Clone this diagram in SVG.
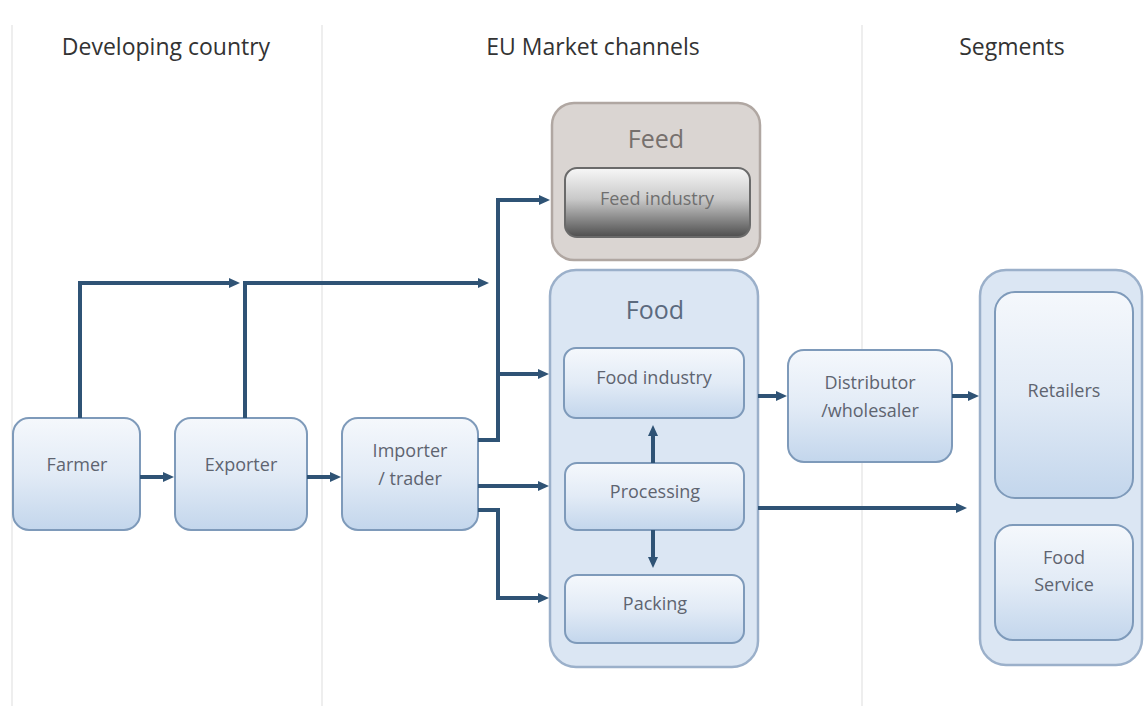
<svg xmlns="http://www.w3.org/2000/svg" width="1146" height="706" viewBox="0 0 1146 706">
<defs>
<linearGradient id="gNode" x1="0" y1="0" x2="0" y2="1">
<stop offset="0" stop-color="#f5f8fc"/>
<stop offset="0.5" stop-color="#e2ebf6"/>
<stop offset="1" stop-color="#c3d6ec"/>
</linearGradient>
<linearGradient id="gFeed" x1="0" y1="0" x2="0" y2="1">
<stop offset="0" stop-color="#f7f7f7"/>
<stop offset="0.45" stop-color="#c9c9c9"/>
<stop offset="1" stop-color="#4e4e4e"/>
</linearGradient>
<marker id="arr" markerUnits="userSpaceOnUse" markerWidth="12" markerHeight="12" refX="3" refY="6" orient="auto">
<path d="M0,1 L11,6 L0,11 z" fill="#2f5375"/>
</marker>
<style>
.hdr{font-family:"Open Sans","Liberation Sans",sans-serif;font-size:23px;fill:#333;text-anchor:middle}
.node rect.b{fill:url(#gNode);stroke:#7e9aba;stroke-width:2}
.lbl{font-family:"Open Sans","Liberation Sans",sans-serif;font-size:18px;fill:#5e6470;text-anchor:middle}
.cont{fill:#dbe6f3;stroke:#9bb0ca;stroke-width:2.5}
.ctitle{font-family:"Open Sans","Liberation Sans",sans-serif;font-size:25px;fill:#5b6a7e;text-anchor:middle}
.sep{stroke:#eeeeee;stroke-width:2}
#connectors path{fill:none;stroke:#2f5375;stroke-width:4}
</style>
</defs>
<rect width="1146" height="706" fill="#ffffff"/>
<g id="separators">
<line class="sep" x1="12" y1="25" x2="12" y2="706"/>
<line class="sep" x1="322" y1="25" x2="322" y2="706"/>
<line class="sep" x1="862" y1="25" x2="862" y2="706"/>
</g>
<g id="headers">
<text class="hdr" x="166" y="55">Developing country</text>
<text class="hdr" x="593" y="55">EU Market channels</text>
<text class="hdr" x="1012" y="55">Segments</text>
</g>
<g id="feed">
<rect x="552" y="103" width="208" height="157" rx="22" fill="#dad5d2" stroke="#b0a7a2" stroke-width="2.5"/>
<text class="ctitle" x="656" y="148" style="fill:#76706d">Feed</text>
<g id="feed-industry">
<rect x="565" y="168" width="185" height="69" rx="12" fill="url(#gFeed)" stroke="#6a6a6a" stroke-width="2"/>
<text class="lbl" x="657" y="205" style="fill:#6f6f6f">Feed industry</text>
</g>
</g>
<g id="food">
<rect class="cont" x="550" y="270" width="208" height="397" rx="26"/>
<text class="ctitle" x="655" y="319">Food</text>
</g>
<g id="segments">
<rect class="cont" x="980" y="270" width="162" height="395" rx="26"/>
</g>
<g id="farmer" class="node">
<rect class="b" x="13" y="418" width="127" height="112" rx="16"/>
<text class="lbl" x="77" y="471">Farmer</text>
</g>
<g id="exporter" class="node">
<rect class="b" x="175" y="418" width="132" height="112" rx="16"/>
<text class="lbl" x="241" y="471">Exporter</text>
</g>
<g id="importer" class="node">
<rect class="b" x="342" y="418" width="136" height="112" rx="16"/>
<text class="lbl" x="410" y="457">Importer</text>
<text class="lbl" x="410" y="485">/ trader</text>
</g>
<g id="food-industry" class="node">
<rect class="b" x="564" y="348" width="180" height="70" rx="12"/>
<text class="lbl" x="654" y="384">Food industry</text>
</g>
<g id="processing" class="node">
<rect class="b" x="565" y="463" width="179" height="67" rx="12"/>
<text class="lbl" x="655" y="498">Processing</text>
</g>
<g id="packing" class="node">
<rect class="b" x="565" y="575" width="179" height="68" rx="12"/>
<text class="lbl" x="655" y="610">Packing</text>
</g>
<g id="distributor" class="node">
<rect class="b" x="788" y="350" width="164" height="112" rx="16"/>
<text class="lbl" x="870" y="389">Distributor</text>
<text class="lbl" x="870" y="417">/wholesaler</text>
</g>
<g id="retailers" class="node">
<rect class="b" x="995" y="292" width="138" height="206" rx="20"/>
<text class="lbl" x="1064" y="397">Retailers</text>
</g>
<g id="food-service" class="node">
<rect class="b" x="995" y="525" width="138" height="115" rx="18"/>
<text class="lbl" x="1064" y="564">Food</text>
<text class="lbl" x="1064" y="591">Service</text>
</g>
<g id="connectors">
<path d="M140,477 H166" marker-end="url(#arr)"/>
<path d="M307,477 H333" marker-end="url(#arr)"/>
<path d="M80,418 V283 H232" marker-end="url(#arr)"/>
<path d="M245,418 V283 H481" marker-end="url(#arr)"/>
<path d="M478,440 H498 V200 H542" marker-end="url(#arr)"/>
<path d="M498,374 H541" marker-end="url(#arr)"/>
<path d="M478,486 H541" marker-end="url(#arr)"/>
<path d="M478,510 H498 V598 H541" marker-end="url(#arr)"/>
<path d="M653,463 V433" marker-end="url(#arr)"/>
<path d="M653,530 V560" marker-end="url(#arr)"/>
<path d="M758,396 H779" marker-end="url(#arr)"/>
<path d="M952,396 H971" marker-end="url(#arr)"/>
<path d="M758,508 H959" marker-end="url(#arr)"/>
</g>
</svg>
